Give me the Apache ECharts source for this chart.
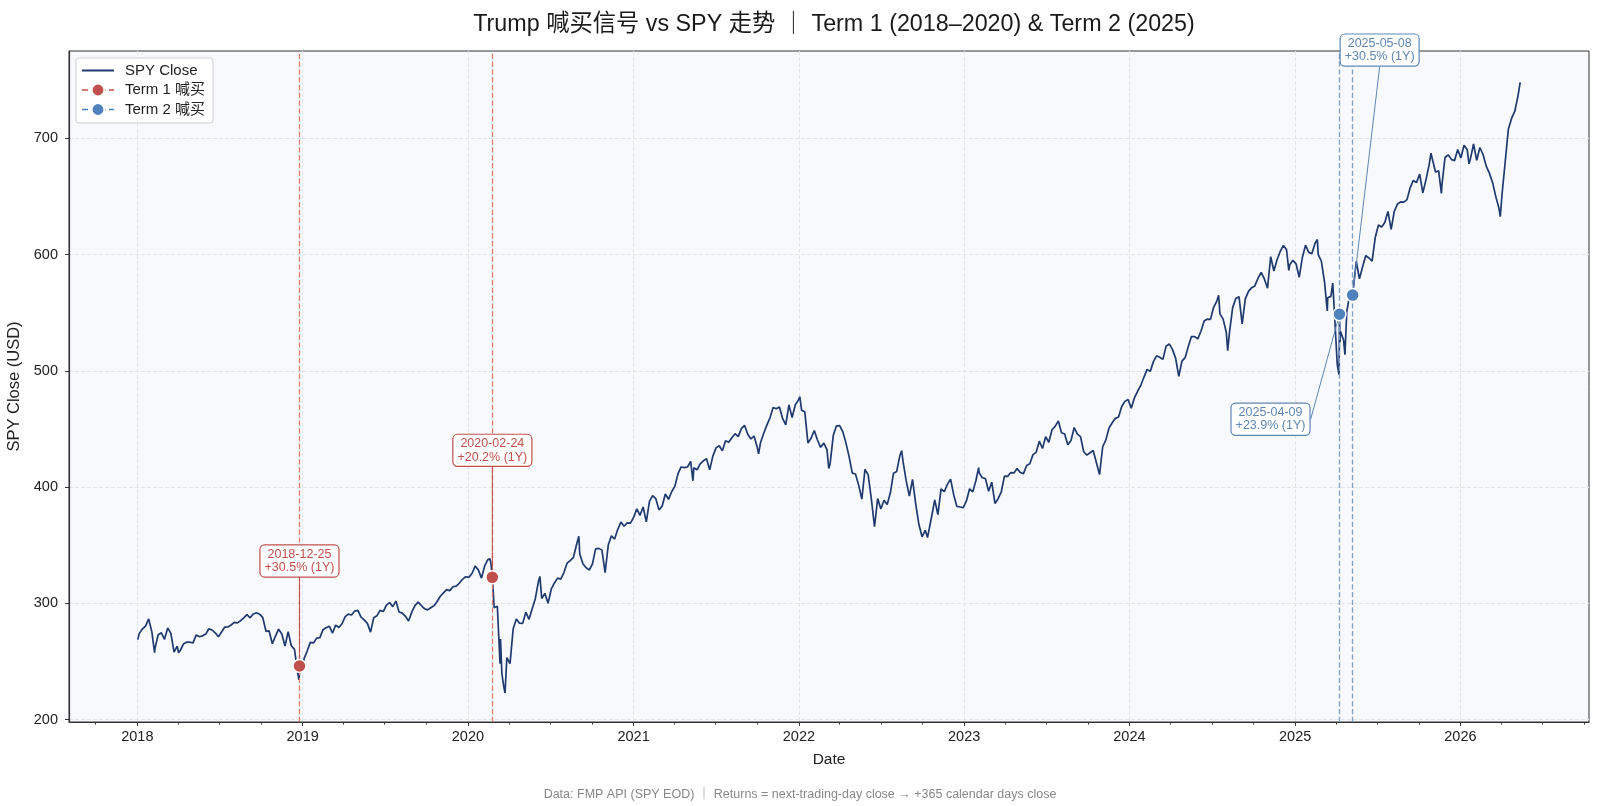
<!DOCTYPE html>
<html>
<head>
<meta charset="utf-8">
<title>Trump 喊买信号 vs SPY 走势</title>
<script src="https://cdn.jsdelivr.net/npm/echarts@6.0.0/dist/echarts.min.js"></script>
<style>
  html, body { margin: 0; padding: 0; background: #fff; }
  #main { width: 1600px; height: 806px; }
</style>
</head>
<body>
<div id="main"></div>
<script>
// SPY 周收盘（每年从第一个周五开始，每 7 天一个点）
const weekStarts = ['2018-01-05', '2019-01-04', '2020-01-03', '2021-01-01', '2022-01-07',
  '2023-01-06', '2024-01-05', '2025-01-03', '2026-01-02'];

const spy2018 = [274.0, 277.9, 280.4, 286.6, 275.5, 261.5, 273.0, 274.7, 269.1, 278.9, 274.2, 258.1, 263.2,
  259.7, 265.2, 266.6, 266.6, 266.0, 272.9, 271.3, 272.1, 273.6, 278.2, 277.1, 274.7, 271.3,
  275.4, 279.6, 279.7, 281.4, 283.6, 283.2, 285.1, 287.5, 290.3, 287.6, 290.9, 292.0, 290.7,
  287.8, 276.0, 276.3, 265.3, 271.9, 277.8, 273.7, 263.3, 275.7, 263.6, 260.5, 240.7, 247.8];
const spy2019 = [252.4, 259.0, 266.5, 266.0, 270.1, 270.5, 277.4, 279.1, 280.4, 274.5, 281.3, 279.3, 282.5,
  288.6, 290.7, 290.0, 293.4, 294.0, 288.1, 285.8, 282.8, 275.3, 287.7, 289.3, 294.0, 293.0,
  298.5, 300.7, 297.2, 302.0, 292.6, 291.6, 288.9, 284.9, 292.5, 298.1, 301.1, 298.3, 295.4,
  294.4, 296.3, 298.0, 301.6, 306.1, 309.0, 311.8, 311.0, 314.3, 314.9, 317.3, 320.7, 322.9];
const spy2020 = [322.4, 325.7, 332.0, 328.8, 321.7, 332.2, 337.6, 333.5, 296.3, 297.5, 269.3, 228.8, 253.4,
  248.2, 278.2, 286.6, 283.0, 282.8, 292.4, 286.3, 295.4, 304.3, 319.3, 304.2, 308.6, 300.1,
  312.2, 317.6, 321.7, 320.9, 326.5, 334.6, 336.8, 339.5, 350.6, 342.6, 334.1, 330.7, 328.7,
  333.8, 346.9, 347.3, 345.8, 326.5, 350.2, 358.1, 355.3, 363.7, 369.9, 366.3, 369.2, 369.0];
const spy2021 = [373.9, 381.3, 375.7, 382.9, 370.1, 387.7, 392.6, 390.0, 380.4, 383.6, 394.1, 389.5, 396.0,
  400.6, 411.5, 417.3, 416.7, 417.3, 422.1, 416.6, 414.9, 420.0, 422.6, 424.3, 414.9, 426.6,
  433.7, 435.5, 431.3, 439.9, 438.5, 442.5, 445.9, 443.4, 450.3, 453.1, 445.4, 441.4, 443.9,
  434.2, 437.9, 445.9, 453.1, 459.3, 468.5, 467.3, 468.9, 459.0, 453.4, 470.7, 459.9, 470.6, 475.0];
const spy2022 = [466.1, 464.7, 438.0, 442.0, 448.7, 440.5, 434.2, 437.8, 432.2, 420.1, 444.5, 452.7, 452.9,
  447.6, 437.8, 426.0, 412.0, 411.3, 401.7, 389.6, 415.3, 410.5, 389.8, 365.9, 390.1, 381.2,
  388.7, 385.1, 395.1, 412.0, 413.5, 427.1, 422.1, 405.3, 392.2, 406.6, 385.6, 368.0, 357.2,
  362.8, 357.6, 374.3, 389.0, 376.4, 398.5, 396.0, 402.3, 406.9, 393.3, 383.3, 382.9, 382.4];
const spy2023 = [388.1, 398.5, 395.9, 405.7, 412.4, 408.0, 407.3, 396.4, 404.2, 385.9, 390.0, 395.8, 409.4,
  409.2, 412.5, 412.2, 415.9, 412.6, 411.6, 418.6, 420.0, 427.9, 429.9, 439.5, 433.2, 443.3,
  438.6, 449.3, 452.2, 456.9, 446.8, 445.7, 436.5, 440.0, 451.2, 445.5, 443.4, 430.4, 427.5,
  429.5, 431.5, 421.2, 410.7, 434.7, 440.6, 450.8, 455.3, 459.1, 460.2, 469.3, 473.7, 475.3];
const spy2024 = [467.9, 476.7, 482.4, 487.4, 494.4, 501.2, 499.5, 507.9, 512.9, 511.7, 509.8, 521.2, 523.1,
  518.4, 510.9, 495.2, 508.3, 511.3, 520.8, 529.5, 529.4, 527.4, 534.0, 542.8, 544.5, 544.2,
  554.6, 560.0, 549.0, 544.4, 532.9, 533.0, 554.3, 562.1, 563.7, 540.4, 562.0, 568.3, 571.5,
  573.0, 579.6, 584.6, 579.0, 571.0, 598.2, 585.8, 595.5, 602.6, 607.8, 604.2, 591.2, 595.0];
const spy2025 = [592.0, 580.5, 597.6, 608.0, 601.8, 600.8, 609.7, 599.9, 594.2, 575.9, 562.8, 564.0, 555.7,
  505.3, 533.9, 526.4, 550.6, 566.8, 564.3, 594.2, 579.1, 589.4, 599.1, 597.0, 594.3, 614.9,
  625.3, 623.6, 627.6, 637.1, 621.7, 637.2, 643.4, 645.3, 645.1, 647.2, 657.4, 663.7, 661.8,
  669.2, 653.0, 664.4, 677.3, 682.1, 671.0, 671.9, 659.0, 683.4, 685.7, 681.8, 680.6, 690.3];
const spy2026 = [683, 694, 690, 682, 695, 681, 692, 686, 676, 670, 662, 650, 640, 652, 680, 708, 717, 723, 736];
const weeklyCloses = [spy2018, spy2019, spy2020, spy2021, spy2022, spy2023, spy2024, spy2025, spy2026];

// 关键交易日的日线收盘（急跌、反弹、信号日）
const dailyExtras = [
  ['2018-01-02', 268.8], ['2018-02-08', 257.6], ['2018-04-02', 257.5], ['2018-12-24', 234.3], ['2018-12-26', 246.2],
  ['2019-01-03', 244.2], ['2020-02-19', 338.3], ['2020-02-24', 322.4], ['2020-03-12', 248.1],
  ['2020-03-16', 239.9], ['2020-03-23', 223.0], ['2020-06-08', 323.2], ['2020-09-02', 357.7],
  ['2021-05-12', 405.4], ['2021-10-04', 428.6], ['2022-01-03', 477.7], ['2022-03-08', 416.0],
  ['2022-08-16', 431.3], ['2022-10-12', 356.6], ['2023-02-02', 416.8], ['2023-03-13', 385.4],
  ['2024-07-16', 564.9], ['2024-08-05', 517.4], ['2024-12-18', 586.3], ['2025-02-19', 612.9],
  ['2025-03-13', 551.4], ['2025-03-25', 575.5], ['2025-04-07', 504.4], ['2025-04-08', 496.5],
  ['2025-04-09', 548.6], ['2025-04-10', 524.6], ['2025-04-21', 513.9], ['2025-05-08', 565.1],
  ['2025-10-28', 687.1], ['2025-11-20', 652.5], ['2026-01-20', 678], ['2026-03-30', 632.5], ['2026-05-13', 748]
];

// 喊买信号：日期、下一交易日收盘、一年收益
const term1Signals = ['2018-12-25', '2020-02-24'];
const term1Entry = [246.2, 322.4];
const term1Returns = ['+30.5%', '+20.2%'];
const term2Signals = ['2025-04-09', '2025-05-08'];
const term2Entry = [548.6, 565.1];
const term2Returns = ['+23.9%', '+30.5%'];

const yearTicks = ['2018', '2019', '2020', '2021', '2022', '2023', '2024', '2025', '2026'];
const yTicks = [200, 300, 400, 500, 600, 700];

const FONT = '"Liberation Sans", "Noto Sans CJK SC", sans-serif';
const NAVY = '#1f3a6e';
const RED = '#c0504d';
const RED_V = '#e07a6e';
const BLUE = '#4f81bd';
const BLUE_BOX = '#5f86b3';
const BLUE_V = '#809fc6';
const GRID_LINE = { show: true, lineStyle: { color: '#e1e6ec', type: 'dashed', width: 1 } };

const toTime = s => new Date(s + 'T00:00:00').getTime();
const DAY = 86400000;

const spyPoints = [];
weeklyCloses.forEach((arr, k) => {
  const t0 = toTime(weekStarts[k]);
  arr.forEach((v, i) => spyPoints.push([t0 + i * 7 * DAY, v]));
});
dailyExtras.forEach(([d, v]) => spyPoints.push([toTime(d), v]));
spyPoints.sort((a, b) => a[0] - b[0]);

const yearTickTimes = yearTicks.map(y => toTime(y + '-01-01'));
const quarterTickTimes = [];
['2017'].concat(yearTicks).forEach(y => ['01', '04', '07', '10'].forEach(m => quarterTickTimes.push(toTime(y + '-' + m + '-01'))));

const X_MIN = toTime('2017-08-03');
const X_MAX = toTime('2026-10-12');

// 注释框相对标记点的偏移（像素）
const t1Offsets = [[0, -105], [0, -127]];
const t2Offsets = [[-69, 105], [27, -245]];

const signalSeries = (name, signals, entry, returns, color, boxColor, vColor, offsets) => ({
  name: name,
  type: 'line',
  data: signals.map((d, i) => [toTime(d), entry[i]]),
  symbol: 'circle',
  symbolSize: 13,
  lineStyle: { width: 0, opacity: 0 },
  itemStyle: { color: color, borderColor: '#fff', borderWidth: 1.5 },
  emphasis: { disabled: true },
  z: 5,
  label: {
    show: true,
    position: 'inside',
    formatter: p => signals[p.dataIndex] + '\n' + returns[p.dataIndex] + ' (1Y)',
    color: boxColor,
    fontFamily: FONT,
    fontSize: 12.5,
    lineHeight: 13.5,
    align: 'center',
    verticalAlign: 'middle',
    backgroundColor: '#fff',
    borderColor: boxColor,
    borderWidth: 1.2,
    borderRadius: 4,
    padding: [2, 4, 2, 4]
  },
  labelLayout: p => ({ dx: offsets[p.dataIndex][0], dy: offsets[p.dataIndex][1] }),
  labelLine: { show: true, lineStyle: { color: boxColor, width: 1 } },
  markLine: {
    silent: true,
    symbol: 'none',
    label: { show: false },
    lineStyle: { color: vColor, type: 'dashed', width: 1.3 },
    data: signals.map(d => ({ xAxis: toTime(d) }))
  }
});

const chart = echarts.init(document.getElementById('main'));
chart.setOption({
  animation: false,
  backgroundColor: '#fff',
  textStyle: { fontFamily: FONT },
  title: [
    {
      // 标题居中于绘图区
      text: 'Trump 喊买信号 vs SPY 走势 ｜ Term 1 (2018–2020) & Term 2 (2025)',
      left: 829, top: 8, textAlign: 'center',
      textStyle: { fontSize: 23.3, fontWeight: 'normal', color: '#1a1a1a', fontFamily: FONT }
    },
    {
      text: 'Data: FMP API (SPY EOD) ｜ Returns = next-trading-day close → +365 calendar days close',
      left: 'center', top: 783,
      textStyle: { fontSize: 12.5, fontWeight: 'normal', color: '#888', fontFamily: FONT }
    }
  ],
  legend: {
    left: 76, top: 58, orient: 'vertical',
    backgroundColor: 'rgba(255,255,255,0.9)', borderColor: '#cfcfcf', borderWidth: 1, borderRadius: 3,
    padding: [5, 8, 6, 5], itemGap: 4.5, itemWidth: 32, itemHeight: 16,
    textStyle: { fontSize: 15, color: '#222', fontFamily: FONT, padding: [0, 0, 0, 6] },
    data: [
      { name: 'SPY Close', itemStyle: { opacity: 0 }, lineStyle: { width: 2 } },
      { name: 'Term 1 喊买', lineStyle: { color: RED, width: 1.6, type: [6, 3], opacity: 1 } },
      { name: 'Term 2 喊买', lineStyle: { color: BLUE, width: 1.6, type: [6, 3], opacity: 1 } }
    ]
  },
  grid: {
    left: 69, right: 11, top: 51, bottom: 84,
    outerBoundsMode: 'none',
    show: true, backgroundColor: '#f7f9fc', borderColor: '#333', borderWidth: 1
  },
  xAxis: [
    {
      type: 'value', min: X_MIN, max: X_MAX, scale: true,
      name: 'Date', nameLocation: 'middle', nameGap: 30,
      nameTextStyle: { fontSize: 15.5, color: '#222', fontFamily: FONT },
      axisLine: { show: true, onZero: false, lineStyle: { color: '#333', width: 1.2 } },
      axisTick: { show: true, customValues: yearTickTimes, length: 4, lineStyle: { color: '#333' } },
      axisLabel: {
        customValues: yearTickTimes,
        formatter: v => String(new Date(v).getFullYear()),
        fontSize: 14.5, color: '#222', margin: 8, fontFamily: FONT
      },
      splitLine: GRID_LINE
    },
    {
      type: 'value', position: 'bottom', min: X_MIN, max: X_MAX, scale: true,
      axisLine: { show: false, onZero: false },
      axisTick: { show: true, customValues: quarterTickTimes, length: 2.5, lineStyle: { color: '#333' } },
      axisLabel: { show: false },
      splitLine: { show: false }
    }
  ],
  yAxis: {
    type: 'value', min: 198, max: 775,
    name: 'SPY Close (USD)', nameLocation: 'middle', nameGap: 42,
    nameTextStyle: { fontSize: 16.5, color: '#222', fontFamily: FONT },
    axisLine: { show: true, lineStyle: { color: '#333', width: 1.2 } },
    axisTick: { show: true, customValues: yTicks, length: 4, lineStyle: { color: '#333' } },
    axisLabel: { customValues: yTicks, fontSize: 14.5, color: '#222', margin: 11, fontFamily: FONT },
    splitLine: GRID_LINE
  },
  series: [
    {
      name: 'SPY Close',
      type: 'line',
      data: spyPoints,
      symbol: 'none',
      lineStyle: { color: NAVY, width: 1.7 },
      itemStyle: { color: NAVY },
      emphasis: { disabled: true },
      z: 3
    },
    signalSeries('Term 1 喊买', term1Signals, term1Entry, term1Returns, RED, RED, RED_V, t1Offsets),
    signalSeries('Term 2 喊买', term2Signals, term2Entry, term2Returns, BLUE, BLUE_BOX, BLUE_V, t2Offsets)
  ]
});
</script>
</body>
</html>
